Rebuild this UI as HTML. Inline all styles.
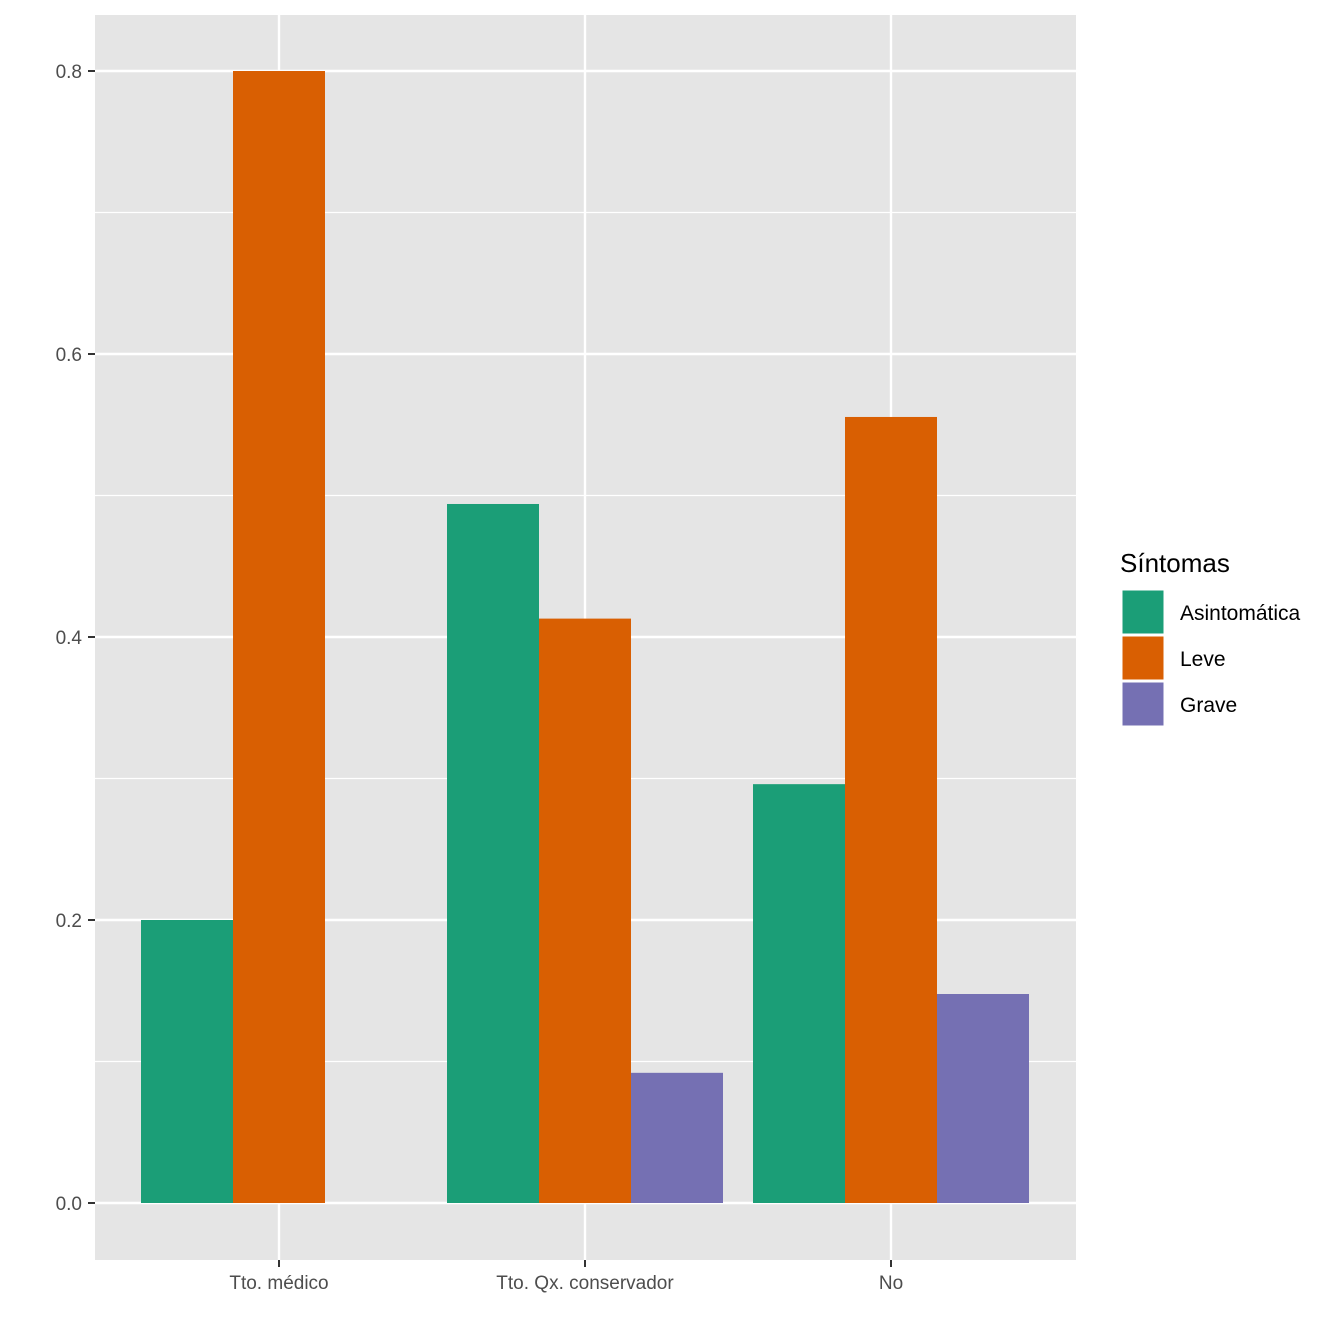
<!DOCTYPE html>
<html><head><meta charset="utf-8"><style>body{margin:0;background:#fff}svg{display:block;font-family:"Liberation Sans",Arial,sans-serif}</style></head>
<body>
<svg id="chart" width="1344" height="1344" viewBox="0 0 1344 1344" xmlns="http://www.w3.org/2000/svg">
<rect x="0" y="0" width="1344" height="1344" fill="#fff"/>
<rect x="95" y="15" width="981" height="1245" fill="#e5e5e5"/>
<g id="grid"></g>
<g id="bars"></g>
<g id="axes"></g>
<g id="legend">
<text x="1120" y="572" font-size="26" fill="#000">Síntomas</text>
</g>
</svg>
<script>
const categories = ["Tto. médico", "Tto. Qx. conservador", "No"];
const seriesNames = ["Asintomática", "Leve", "Grave"];
const asintomatica = [0.2, 0.494, 0.296];
const leve = [0.8, 0.413, 0.5555];
const grave = [0, 0.092, 0.1477];
const yTicks = [0, 0.2, 0.4, 0.6, 0.8];
const yTickLabels = ["0.0", "0.2", "0.4", "0.6", "0.8"];
const colors = ["#1b9e77", "#d95f02", "#7570b3"];
const NS = "http://www.w3.org/2000/svg";
const y = v => 1203 - v * 1415;
const x = i => 279 + i * 306;
const barW = 92;
function mk(tag, attrs, parent) { const e = document.createElementNS(NS, tag); for (const k in attrs) e.setAttribute(k, attrs[k]); parent.appendChild(e); return e; }
const grid = document.getElementById('grid'), bars = document.getElementById('bars'), axes = document.getElementById('axes'), legend = document.getElementById('legend');
for (let i = 0; i < yTicks.length - 1; i++) {
  const m = (yTicks[i] + yTicks[i+1]) / 2;
  const l = mk('line', {x1:95, x2:1076, y1:y(m), y2:y(m), stroke:'#fff', 'stroke-width':1.2}, grid);
  
  
}
yTicks.forEach((t, i) => {
  const l = mk('line', {x1:95, x2:1076, y1:y(t), y2:y(t), stroke:'#fff', 'stroke-width':2.4}, grid);
  
  
  const tk = mk('line', {x1:88, x2:95, y1:y(t), y2:y(t), stroke:'#333', 'stroke-width':2}, axes);
  
  
  const tx = mk('text', {x:82, y:y(t)+7, 'text-anchor':'end', 'font-size':19, fill:'#4d4d4d'}, axes);
  tx.textContent = yTickLabels[i];
  
  
});
categories.forEach((c, i) => {
  const l = mk('line', {x1:x(i), x2:x(i), y1:15, y2:1260, stroke:'#fff', 'stroke-width':2.4}, grid);
  
  
  const tk = mk('line', {x1:x(i), x2:x(i), y1:1260, y2:1267, stroke:'#333', 'stroke-width':2}, axes);
  
  
  const tx = mk('text', {x:x(i), y:1289, 'text-anchor':'middle', 'font-size':19, fill:'#4d4d4d'}, axes);
  tx.textContent = c;
  
  
});
[asintomatica, leve, grave].forEach((s, si) => {
  s.forEach((v, i) => {
    if (v <= 0) return;
    const r = mk('rect', {x:x(i) - 1.5*barW + si*barW, y:y(v), width:barW, height:y(0)-y(v), fill:colors[si]}, bars);
    
    
  });
});
seriesNames.forEach((n, si) => {
  const r = mk('rect', {x:1122, y:590 + si*46, width:42, height:44, fill:colors[si], stroke:'#fff', 'stroke-width':1}, legend);
  
  
  const t = mk('text', {x:1180, y:620 + si*46, 'font-size':21, fill:'#000'}, legend);
  t.textContent = n;
  
  
});
</script>
</body></html>
